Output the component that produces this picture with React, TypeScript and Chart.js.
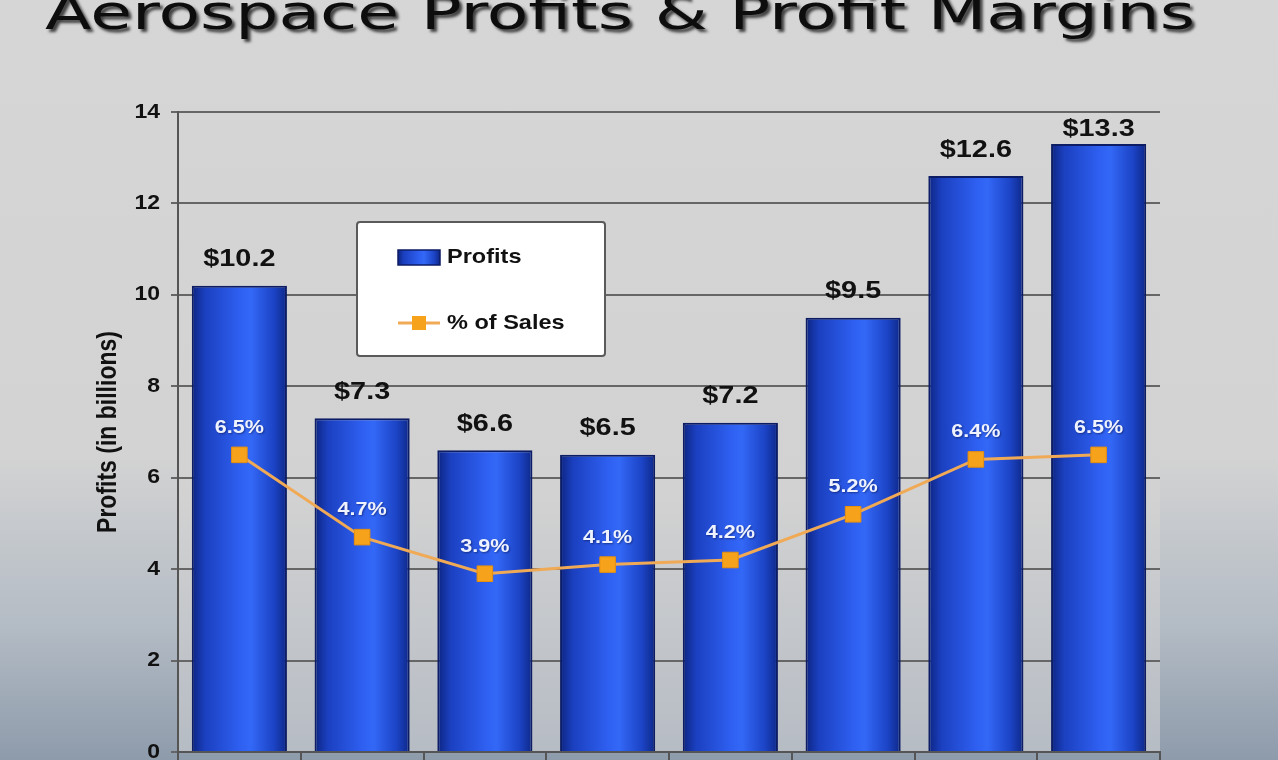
import React, { useEffect, useRef } from "react";
import { Chart, registerables } from "chart.js";

Chart.register(...registerables);

// ---- data ----
const categories = ["1", "2", "3", "4", "5", "6", "7", "8"];
const profits = [10.2, 7.3, 6.6, 6.5, 7.2, 9.5, 12.6, 13.3];
const pctOfSales = [6.5, 4.7, 3.9, 4.1, 4.2, 5.2, 6.4, 6.5];
const profitLabels = ["$10.2", "$7.3", "$6.6", "$6.5", "$7.2", "$9.5", "$12.6", "$13.3"];
const pctLabels = ["6.5%", "4.7%", "3.9%", "4.1%", "4.2%", "5.2%", "6.4%", "6.5%"];
const yMin = 0;
const yMax = 14;
const yStep = 2;
const chartTitle = "Aerospace Profits & Profit Margins";
const yAxisTitle = "Profits (in billions)";
const legendLabels = ["Profits", "% of Sales"];

// ---- style ----
const SX = 1.2; // horizontal stretch of the original slide text
const BAR_PCT = 0.775;
const FONT = "'Liberation Sans', Arial, sans-serif";
const ORANGE_LINE = "#f0aa55";
const ORANGE_PT = "#f7a21b";

function stretchedText(
  ctx: CanvasRenderingContext2D,
  text: string,
  x: number,
  y: number,
  font: string,
  color: string,
  align: CanvasTextAlign,
  sx: number = SX
) {
  ctx.save();
  ctx.font = font;
  ctx.fillStyle = color;
  ctx.textBaseline = "middle";
  ctx.textAlign = align;
  ctx.translate(x, y);
  ctx.scale(sx, 1);
  ctx.fillText(text, 0, 0);
  ctx.restore();
}

function makeBarGradient(ctx: CanvasRenderingContext2D, x0: number, x1: number) {
  const g = ctx.createLinearGradient(x0, 0, x1, 0);
  g.addColorStop(0, "#0d2582");
  g.addColorStop(0.14, "#1b40c0");
  g.addColorStop(0.5, "#2e5ff0");
  g.addColorStop(0.62, "#3368f7");
  g.addColorStop(0.86, "#1c44c6");
  g.addColorStop(1, "#0e2888");
  return g;
}

function barBackground(c: any) {
  const chart = c.chart;
  const xs = chart.scales && chart.scales.x;
  if (!xs || c.dataIndex === undefined || !chart.chartArea) return "#2d5ce8";
  const cx = xs.getPixelForValue(c.dataIndex);
  const w = (xs.width / categories.length) * BAR_PCT;
  return makeBarGradient(chart.ctx, cx - w / 2, cx + w / 2);
}

const backgroundPlugin = {
  id: "plotBg",
  beforeDraw(chart: any) {
    const { ctx, chartArea: a } = chart;
    ctx.save();
    const g = ctx.createLinearGradient(0, a.top, 0, a.bottom);
    g.addColorStop(0, "#d5d5d5");
    g.addColorStop(0.6, "#d2d2d2");
    g.addColorStop(1, "#b6bcc4");
    ctx.fillStyle = g;
    ctx.fillRect(a.left, a.top, a.right - a.left, a.bottom - a.top);
    ctx.restore();
  },
};

const annotationPlugin = {
  id: "annotations",
  afterDatasetsDraw(chart: any) {
    const { ctx, chartArea: a } = chart;
    const xs = chart.scales.x;
    const ys = chart.scales.y;

    // bar value labels
    profits.forEach((v, i) => {
      const x = xs.getPixelForValue(i);
      let y = ys.getPixelForValue(v) - 26;
      if (y < a.top + 17) y = a.top + 17;
      stretchedText(ctx, profitLabels[i], x, y, `bold 24px ${FONT}`, "#111", "center");
    });

    // percent labels
    pctOfSales.forEach((v, i) => {
      const x = xs.getPixelForValue(i);
      const y = ys.getPixelForValue(v) - 27;
      ctx.save();
      ctx.shadowColor = "rgba(0,0,40,0.45)";
      ctx.shadowBlur = 2;
      ctx.shadowOffsetX = 1;
      ctx.shadowOffsetY = 1;
      stretchedText(ctx, pctLabels[i], x, y, `bold 18px ${FONT}`, "#eef3ff", "center");
      ctx.restore();
    });

    // legend box
    const lx = a.left + 179;
    const ly = a.top + 110;
    const lw = 248;
    const lh = 134;
    ctx.save();
    ctx.fillStyle = "#ffffff";
    ctx.strokeStyle = "#5a5a5a";
    ctx.lineWidth = 2;
    ctx.beginPath();
    ctx.roundRect(lx, ly, lw, lh, 3);
    ctx.fill();
    ctx.stroke();
    // profits swatch
    const sx0 = lx + 41;
    const sy0 = ly + 28;
    ctx.fillStyle = makeBarGradient(ctx, sx0, sx0 + 42);
    ctx.fillRect(sx0, sy0, 42, 15);
    ctx.strokeStyle = "#0c1d66";
    ctx.lineWidth = 1.5;
    ctx.strokeRect(sx0, sy0, 42, 15);
    // line swatch
    const ly2 = ly + 101;
    ctx.strokeStyle = ORANGE_LINE;
    ctx.lineWidth = 3;
    ctx.beginPath();
    ctx.moveTo(lx + 41, ly2);
    ctx.lineTo(lx + 83, ly2);
    ctx.stroke();
    ctx.fillStyle = ORANGE_PT;
    ctx.fillRect(lx + 62 - 7, ly2 - 7, 14, 14);
    ctx.restore();
    stretchedText(ctx, legendLabels[0], lx + 90, sy0 + 7, `bold 21px ${FONT}`, "#111", "left", 1.12);
    stretchedText(ctx, legendLabels[1], lx + 90, ly2, `bold 21px ${FONT}`, "#111", "left", 1.12);
  },
  afterDraw(chart: any) {
    const { ctx, chartArea: a } = chart;
    const ys = chart.scales.y;

    // y tick labels
    ys.ticks.forEach((t: any) => {
      const y = ys.getPixelForValue(t.value);
      stretchedText(ctx, String(t.value), a.left - 18, y, `bold 20px ${FONT}`, "#111", "right", 1.15);
    });

    // y axis title
    ctx.save();
    ctx.translate(108, (a.top + a.bottom) / 2);
    ctx.rotate(-Math.PI / 2);
    ctx.scale(1, SX);
    ctx.font = `bold 23px ${FONT}`;
    ctx.fillStyle = "#111";
    ctx.textAlign = "center";
    ctx.textBaseline = "middle";
    ctx.fillText(yAxisTitle, 0, 0);
    ctx.restore();

    // main title (clipped at top as in the source)
    ctx.save();
    ctx.font = `48px 'DejaVu Sans', sans-serif`;
    const w = ctx.measureText(chartTitle).width;
    const s = 1150 / w;
    ctx.translate(620, 29);
    ctx.scale(s, 1);
    ctx.textAlign = "center";
    ctx.textBaseline = "alphabetic";
    ctx.shadowColor = "rgba(0,0,0,0.7)";
    ctx.shadowBlur = 3;
    ctx.shadowOffsetX = 3;
    ctx.shadowOffsetY = 3;
    ctx.fillStyle = "#0d0d0d";
    ctx.fillText(chartTitle, 0, 0);
    ctx.restore();
  },
};

export default function App() {
  const canvasRef = useRef<HTMLCanvasElement | null>(null);

  useEffect(() => {
    document.body.style.margin = "0";
    const canvas = canvasRef.current;
    if (!canvas) return;
    const chart = new Chart(canvas, {
      type: "bar",
      data: {
        labels: categories,
        datasets: [
          {
            type: "line",
            label: legendLabels[1],
            data: pctOfSales,
            borderColor: ORANGE_LINE,
            borderWidth: 3,
            pointStyle: "rect",
            pointRadius: 11,
            pointBackgroundColor: ORANGE_PT,
            pointBorderColor: "#e8900c",
            pointBorderWidth: 1,
            tension: 0,
            order: 0,
          } as any,
          {
            type: "bar",
            label: legendLabels[0],
            data: profits,
            backgroundColor: barBackground,
            borderColor: "#0c1d66",
            borderWidth: 2,
            barPercentage: BAR_PCT,
            categoryPercentage: 1,
            order: 1,
          } as any,
        ],
      },
      options: {
        animation: false,
        responsive: false,
        layout: { autoPadding: false, padding: { left: 0, right: 118, top: 112, bottom: 0 } },
        plugins: {
          legend: { display: false },
          tooltip: { enabled: false },
          title: { display: false },
        },
        scales: {
          x: {
            type: "category",
            offset: true,
            ticks: { display: false },
            grid: {
              display: true,
              offset: true,
              drawOnChartArea: false,
              drawTicks: true,
              tickLength: 8,
              color: "#555",
              lineWidth: 2,
            },
            border: { display: true, color: "#555", width: 2 },
            afterFit: (s: any) => {
              s.height = 8;
            },
          },
          y: {
            min: yMin,
            max: yMax,
            ticks: { display: false, stepSize: yStep },
            grid: {
              color: "#666",
              lineWidth: 2,
              drawTicks: true,
              tickLength: 7,
            },
            border: { display: true, color: "#555", width: 2 },
            afterFit: (s: any) => {
              s.width = 178;
            },
          },
        },
      } as any,
      plugins: [backgroundPlugin, annotationPlugin],
    });
    return () => chart.destroy();
  }, []);

  return (
    <div
      style={{
        position: "absolute",
        left: 0,
        top: 0,
        width: 1278,
        height: 760,
        overflow: "hidden",
        background:
          "linear-gradient(to bottom, #d6d6d6 0%, #d3d3d3 60%, #b4bcc5 82%, #8e9bab 100%)",
      }}
    >
      <canvas ref={canvasRef} width={1278} height={760} style={{ display: "block" }} />
    </div>
  );
}
